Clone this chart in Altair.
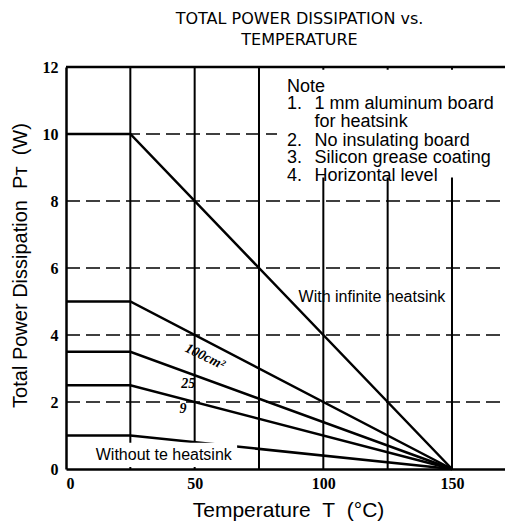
import altair as alt
import pandas as pd

# ---- data -----------------------------------------------------------------
TEMPS = [0, 25, 150]
SERIES_NAMES = ["With infinite heatsink", "100cm2", "25", "9", "Without heatsink"]
SERIES_VALUES = [
    [10, 10, 0],
    [5, 5, 0],
    [3.5, 3.5, 0],
    [2.5, 2.5, 0],
    [1, 1, 0],
]
X_TICKS = [0, 50, 100, 150]
Y_TICKS = [0, 2, 4, 6, 8, 10, 12]
V_GRID = [25, 50, 75, 100, 125, 150]
H_GRID = [2, 4, 6, 8, 10]
NOTE_NUMS = ["Note", "1.", "", "2.", "3.", "4."]
NOTE_TEXTS = ["", "1 mm aluminum board", "for heatsink", "No insulating board",
              "Silicon grease coating", "Horizontal level"]
NOTE_Y = [11.40, 10.90, 10.36, 9.80, 9.27, 8.75]
CURVE_LABELS = ["100cm\u00b2", "25", "9"]
CURVE_LABEL_X = [54, 47.5, 45.5]
CURVE_LABEL_Y = [3.35, 2.55, 1.78]
CURVE_LABEL_ANGLE = [26, 0, 0]

XMAX = 170.6
YMAX = 12

rows = []
for name, vals in zip(SERIES_NAMES, SERIES_VALUES):
    for t, v in zip(TEMPS, vals):
        rows.append({"series": name, "T": t, "P": v})
lines_df = pd.DataFrame(rows)

vgrid_df = pd.DataFrame({"x": V_GRID, "y0": [0] * len(V_GRID), "y1": [YMAX] * len(V_GRID)})
hgrid_df = pd.DataFrame({"y": H_GRID, "x0": [0] * len(H_GRID), "x1": [XMAX] * len(H_GRID)})
top_df = pd.DataFrame({"y": [YMAX], "x0": [0], "x1": [XMAX]})
boxes_df = pd.DataFrame({"x0": [82, 7.4], "x1": [XMAX, 66.5], "y0": [8.7, 0.06], "y1": [11.92, 0.78]})
curve_df = pd.DataFrame({"label": CURVE_LABELS, "x": CURVE_LABEL_X, "y": CURVE_LABEL_Y,
                         "angle": CURVE_LABEL_ANGLE})
note_num_df = pd.DataFrame({"t": NOTE_NUMS, "y": NOTE_Y, "x": [85.9] * len(NOTE_Y)})
note_txt_df = pd.DataFrame({"t": NOTE_TEXTS, "y": NOTE_Y, "x": [96.6] * len(NOTE_Y)})

FONT = "Liberation Sans"
XS = alt.Scale(domain=[0, XMAX], nice=False, zero=False)
YS = alt.Scale(domain=[0, YMAX], nice=False, zero=False)

XAX = alt.Axis(values=X_TICKS, grid=False, ticks=False, labelFont="Liberation Serif",
               labelFontWeight="bold", labelFontSize=16, labelColor="black", labelPadding=6,
               domainColor="black", domainWidth=2.5,
               title="Temperature\u00a0\u00a0T\u00a0\u00a0(\u00b0C)", titleFont=FONT, titleFontSize=21,
               titleFontWeight="normal", titleColor="black", titleX=222, titleY=41,
               titleBaseline="middle", titleAlign="center")
YAX = alt.Axis(values=Y_TICKS, grid=False, ticks=False, labelFont="Liberation Serif",
               labelFontWeight="bold", labelFontSize=16, labelColor="black", labelPadding=8,
               domainColor="black", domainWidth=2.5,
               title="Total Power Dissipation\u00a0\u00a0P\u1d1b\u00a0\u00a0(W)", titleFont=FONT,
               titleFontSize=20, titleFontWeight="normal", titleColor="black", titleX=-46,
               titleY=198, titleAngle=-90, titleBaseline="middle", titleAlign="center")


def X(f):
    return alt.X(f, type="quantitative", scale=XS, axis=XAX)


def Y(f):
    return alt.Y(f, type="quantitative", scale=YS, axis=YAX)


vgrid = alt.Chart(vgrid_df).mark_rule(color="black", strokeWidth=2).encode(
    x=X("x"), y=Y("y0"), y2="y1")
hgrid = alt.Chart(hgrid_df).mark_rule(color="black", strokeWidth=1.3, strokeDash=[14, 6]).encode(
    y=Y("y"), x=X("x0"), x2="x1")
curves = alt.Chart(lines_df).mark_line(color="black", strokeWidth=2.5).encode(
    x=X("T"), y=Y("P"), detail="series:N")
boxes = alt.Chart(boxes_df).mark_rect(color="white").encode(
    x=X("x0"), x2="x1", y=Y("y0"), y2="y1")
top = alt.Chart(top_df).mark_rule(color="black", strokeWidth=2.5).encode(
    y=Y("y"), x=X("x0"), x2="x1")

note_nums = alt.Chart(note_num_df).mark_text(
    font=FONT, fontSize=18, align="left", baseline="middle", color="black").encode(
    x=X("x"), y=Y("y"), text="t:N")
note_txts = alt.Chart(note_txt_df).mark_text(
    font=FONT, fontSize=18, align="left", baseline="middle", color="black").encode(
    x=X("x"), y=Y("y"), text="t:N")

infinite_lbl = alt.Chart(pd.DataFrame({"x": [90.4], "y": [5.13], "t": ["With infinite heatsink"]})).mark_text(
    font=FONT, fontSize=16, align="left", baseline="middle", color="black").encode(
    x=X("x"), y=Y("y"), text="t:N")
without_lbl = alt.Chart(pd.DataFrame({"x": [38], "y": [0.42], "t": ["Without te heatsink"]})).mark_text(
    font=FONT, fontSize=16, align="center", baseline="middle", color="black").encode(
    x=X("x"), y=Y("y"), text="t:N")
curve_lbl = alt.Chart(curve_df).mark_text(
    font="Liberation Serif", fontSize=14, fontStyle="italic", fontWeight="bold",
    align="center", baseline="middle", color="black").encode(
    x=X("x"), y=Y("y"), text="label:N", angle=alt.Angle("angle:Q", scale=None))

chart = alt.layer(vgrid, hgrid, curves, boxes, top, note_nums, note_txts, infinite_lbl,
                  without_lbl, curve_lbl).properties(
    width=439, height=402, autosize="none",
    padding={"left": 58, "top": 59, "right": 0, "bottom": 54},
    title=alt.TitleParams(text=["TOTAL POWER DISSIPATION vs.", "TEMPERATURE"], font="DejaVu Sans",
                          fontSize=16, fontWeight="normal", color="black", anchor="middle",
                          dx=14, offset=11, lineHeight=21),
).configure_view(stroke=None).configure(background="white")

chart.save("out.html", embed_options={"renderer": "svg", "actions": False})
